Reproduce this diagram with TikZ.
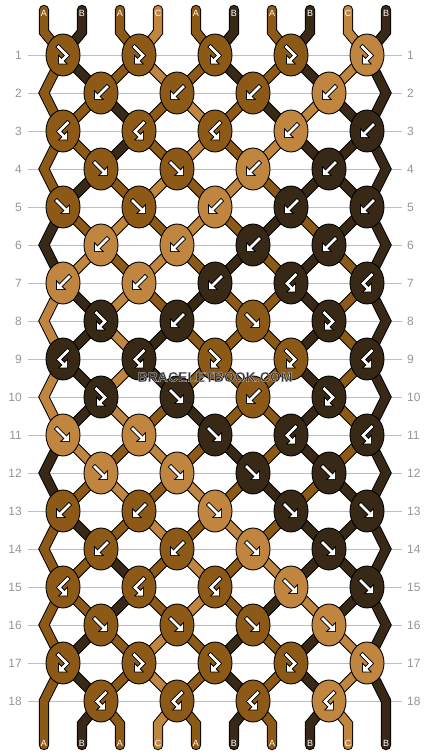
\documentclass[tikz,border=0pt]{standalone}
\usepackage{fontspec}
\setmainfont{Liberation Sans}
\newfontfamily\wmfont{Liberation Sans}[BoldFont={Liberation Sans Bold},BoldFeatures={FakeBold=1.8}]
\definecolor{colA}{RGB}{140,90,22}
\definecolor{colB}{RGB}{56,41,22}
\definecolor{colC}{RGB}{192,134,63}
\definecolor{rowgray}{RGB}{150,150,150}
\definecolor{linegray}{RGB}{190,190,190}

\newcommand\strandpath[2]{%
  \draw[draw=black,line width=10.4pt,line cap=round,line join=miter] #2;
  \draw[draw=col#1,line width=8.4pt,line cap=round,line join=miter] #2;}

\newcommand\posx[3]{%
  \pgfmathsetmacro#1{ifthenelse(mod(#2,2)==1,63+76*int(#3/2),ifthenelse(#3==0,44,ifthenelse(#3==9,386,101+76*int((#3-1)/2))))}}

\newcommand\glyphpart[3]{%
  \draw[black,line width=4.4pt,line cap=rect,line join=miter] #1;
  \filldraw[black,line width=1.8pt,line join=miter] #2 -- ++(0,-7) -- ++(#3,7) -- cycle;
  \draw[white,line width=2.6pt,line cap=rect,line join=miter] #1;
  \fill[white] #2 -- ++(0,-7) -- ++(#3,7) -- cycle;}
\newcommand\glyphf{\glyphpart{(-6,-6) -- (3,3)}{(6,6)}{-7}}
\newcommand\glyphb{\glyphpart{(6,-6) -- (-3,3)}{(-6,6)}{7}}
\newcommand\glyphfb{\glyphpart{(-4.5,-8) -- (4,0.5) -- (-1.5,6)}{(-4,8.5)}{7}}
\newcommand\glyphbf{\glyphpart{(4.5,-8) -- (-4,0.5) -- (1.5,6)}{(4,8.5)}{-7}}

\tikzset{
  rowlabel/.style={text=rowgray,font=\fontsize{12}{14}\selectfont,inner sep=0pt},
  strlabel/.style={text=white,font=\fontsize{9}{10}\selectfont,inner sep=0pt},
  knotshape/.style={draw=black,line width=0.9pt},
  rowline/.style={draw=linegray,line width=1pt}
}

\begin{document}
\begin{tikzpicture}[x=1pt,y=-1pt]
\useasboundingbox (0,0) rectangle (430,756);
\fill[white] (0,0) rectangle (430,756);

% row lines and numbers
\foreach \r in {1,...,18} {
  \pgfmathsetmacro\ry{17+38*\r}
  \draw[rowline] (28,\ry) -- (402,\ry);
  \node[rowlabel,anchor=east] (ll\r) at (22,\ry) {\r};
  \node[rowlabel,anchor=west] (rl\r) at (407,\ry) {\r};
}

% strings
\foreach \r/\s in {0/{A,B,A,C,A,B,A,B,C,B},1/{A,B,A,C,A,B,A,B,C,B},2/{A,A,B,A,C,A,B,C,B,B},3/{A,A,B,A,C,A,C,B,B,B},4/{A,B,A,C,A,C,A,B,B,B},5/{B,A,C,A,C,A,B,A,B,B},6/{B,C,A,C,A,B,A,B,A,B},7/{C,B,C,A,B,A,A,B,A,B},8/{C,B,C,B,A,A,A,B,A,B},9/{C,B,C,B,A,A,A,B,A,B},10/{C,B,C,A,B,A,A,B,A,B},11/{B,C,A,C,A,B,A,B,A,B},12/{B,A,C,A,C,A,B,A,B,B},13/{A,B,A,C,A,C,A,B,B,B},14/{A,A,B,A,C,A,C,B,B,B},15/{A,A,B,A,C,A,B,C,B,B},16/{A,B,A,C,A,B,A,B,C,B},17/{A,B,A,C,A,B,A,B,C,B},18/{A,B,A,C,A,B,A,B,C,B}} {
  \foreach \c [count=\p from 0] in \s {
    \pgfmathsetmacro\xp{44+38*\p}
    \ifnum\r=0
      \posx\xb{1}{\p}
      \strandpath{\c}{(\xp,10) -- (\xp,32) -- (\xb,55)}
    \else\ifnum\r=18
      \ifnum\p>0 \ifnum\p<9
        \posx\xa{18}{\p}
        \strandpath{\c}{(\xa,701) -- (\xp,724) -- (\xp,745)}
      \fi\fi
    \else
      \pgfmathtruncatemacro\isedge{ifthenelse(\p==0,1,ifthenelse(\p==9,1,0))}
      \pgfmathtruncatemacro\isodd{mod(\r,2)}
      \pgfmathsetmacro\ya{17+38*\r}
      \ifnum\isedge=1
        \ifnum\isodd=1
          \posx\xa{\r}{\p}
          \ifnum\r=17
            \strandpath{\c}{(\xa,\ya) -- (\xp,701) -- (\xp,745)}
          \else
            \pgfmathsetmacro\yb{\ya+38}
            \pgfmathsetmacro\yc{\ya+76}
            \strandpath{\c}{(\xa,\ya) -- (\xp,\yb) -- (\xa,\yc)}
          \fi
        \fi
      \else
        \posx\xa{\r}{\p}
        \pgfmathtruncatemacro\rn{\r+1}
        \posx\xb{\rn}{\p}
        \pgfmathsetmacro\yb{\ya+38}
        \strandpath{\c}{(\xa,\ya) -- (\xb,\yb)}
      \fi
    \fi\fi
  }
}

% knots
\foreach \r/\s in {1/{A/fb,A/fb,A/fb,A/fb,C/fb},2/{A/b,A/b,A/b,C/b},3/{A/bf,A/bf,A/bf,C/b,B/b},4/{A/f,A/f,C/b,B/b},5/{A/f,A/f,C/b,B/b,B/b},6/{C/b,C/b,B/b,B/b},7/{C/b,C/b,B/b,B/bf,B/bf},8/{B/fb,B/b,A/f,B/fb},9/{B/bf,B/bf,A/fb,A/fb,B/bf},10/{B/fb,B/f,A/b,B/fb},11/{C/f,C/f,B/f,B/bf,B/bf},12/{C/f,C/f,B/f,B/f},13/{A/b,A/b,C/f,B/f,B/f},14/{A/b,A/b,C/f,B/f},15/{A/bf,A/bf,A/bf,C/f,B/f},16/{A/f,A/f,A/f,C/f},17/{A/fb,A/fb,A/fb,A/fb,C/fb},18/{A/bf,A/bf,A/bf,C/bf}} {
  \foreach \c/\t [count=\k from 0] in \s {
    \pgfmathsetmacro\knx{63+38*(1-mod(\r,2))+76*\k}
    \pgfmathsetmacro\kny{17+38*\r}
    \filldraw[knotshape,fill=col\c] (\knx,\kny) ellipse [x radius=17, y radius=21];
    \begin{scope}[shift={(\knx,\kny)}]
      \csname glyph\t\endcsname
    \end{scope}
  }
}

% string letters
\foreach \c [count=\p from 0] in {A,B,A,C,A,B,A,B,C,B} {
  \pgfmathsetmacro\xp{44+38*\p}
  \node[strlabel] (top\p) at (\xp,13) {\c};
  \node[strlabel] (bot\p) at (\xp,743) {\c};
}

% watermark (dark fill, light outline via stroked bold text)
\node[inner sep=0pt] (wm) at (215,377) {\wmfont\bfseries\fontsize{14}{15}\selectfont\special{pdf:bcolor [0.2 0.2 0.2] [0.88 0.88 0.88]}BRACELETBOOK.COM\special{pdf:ecolor}};
\end{tikzpicture}
\end{document}
